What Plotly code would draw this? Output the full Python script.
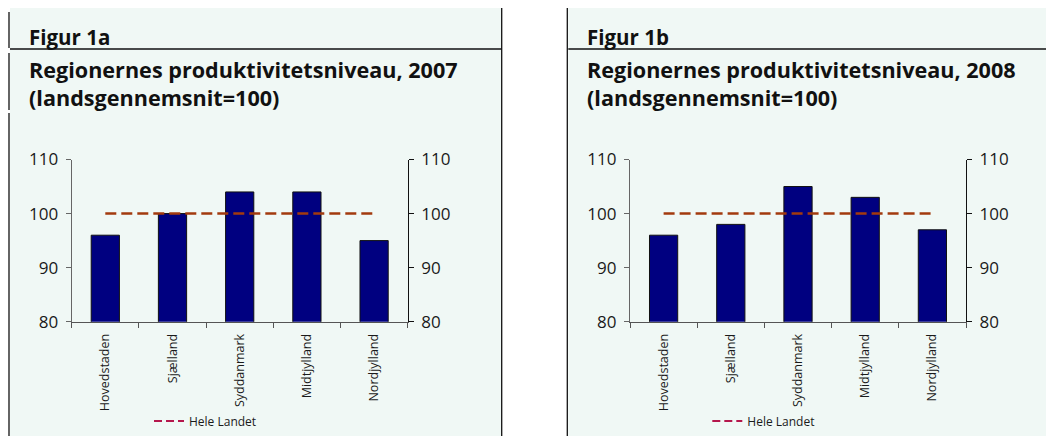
import plotly.graph_objects as go

regions = ["Hovedstaden", "Sjælland", "Syddanmark", "Midtjylland", "Nordjylland"]
values_2007 = [96, 100, 104, 104, 95]
values_2008 = [96, 98, 105, 103, 97]
hele_landet = [100, 100, 100, 100, 100]
y_ticks = [80, 90, 100, 110]
panel_titles = ["Figur 1a", "Figur 1b"]
chart_titles = ["Regionernes produktivitetsniveau, 2007<br>(landsgennemsnit=100)",
                "Regionernes produktivitetsniveau, 2008<br>(landsgennemsnit=100)"]
legend_name = "Hele Landet"

W, H = 1046, 436
FONT = "Open Sans"
BAR = "#000080"
LINE = "#a23a0e"
LEG = "#b5174c"
BG = "#f0f8f5"

def px(x):
    return x / W

def py(y):
    return 1 - y / H

fig = go.Figure()

panels = [
    dict(off=0.0, vals=values_2007, xa="x", ya="y", ya2="y2", leg="legend"),
    dict(off=558.3, vals=values_2008, xa="x2", ya="y3", ya2="y4", leg="legend2"),
]

for i, p in enumerate(panels):
    fig.add_trace(go.Bar(x=regions, y=p["vals"], xaxis=p["xa"], yaxis=p["ya"],
                         marker=dict(color=BAR, line=dict(color="#111111", width=1)),
                         showlegend=False, hoverinfo="x+y"))
    fig.add_trace(go.Scatter(x=regions, y=hele_landet, xaxis=p["xa"], yaxis=p["ya2"],
                             mode="lines", line=dict(color=LINE, width=2.5, dash="11px,5px"),
                             showlegend=False, name=legend_name))
    fig.add_trace(go.Scatter(x=[None], y=[None], xaxis=p["xa"], yaxis=p["ya2"],
                             mode="lines", line=dict(color=LEG, width=2, dash="8px,4px"),
                             name=legend_name, legend=p["leg"], showlegend=True))

x_left = 71.7
x_right = 407.7
y_top = 159.5
y_bot = 321.7

layout = dict(
    width=W, height=H,
    margin=dict(l=0, r=0, t=0, b=0, pad=0, autoexpand=False),
    paper_bgcolor="white",
    plot_bgcolor="rgba(0,0,0,0)",
    font=dict(family=FONT, color="#1a1a1a"),
    barmode="group",
    bargap=0.58,
)

shapes = []
annotations = []
for i, p in enumerate(panels):
    o = p["off"]
    dom = [px(x_left + o), px(x_right + o)]
    ydom = [py(y_bot), py(y_top)]
    xname = "xaxis" + ("" if i == 0 else "2")
    yname = "yaxis" + ("" if i == 0 else "3")
    y2name = "yaxis" + ("2" if i == 0 else "4")
    xref = "x" + ("" if i == 0 else "2")
    yref = "y" + ("" if i == 0 else "3")
    layout[xname] = dict(domain=dom, anchor=yref, type="category", automargin=False,
                         showline=True, linecolor="#555555", linewidth=1.3,
                         ticks="outside", tickson="boundaries", ticklen=5, tickcolor="#555555",
                         tickangle=-90, ticklabelstandoff=6,
                         tickfont=dict(size=12.5, color="#1a1a1a", family=FONT),
                         showgrid=False, zeroline=False, fixedrange=True)
    layout[yname] = dict(domain=ydom, anchor=xref, range=[80, 110], tickvals=y_ticks,
                         automargin=False,
                         showline=True, linecolor="#666666", linewidth=1.3,
                         ticks="outside", ticklen=5, tickcolor="#666666", ticklabelstandoff=4,
                         tickfont=dict(size=17, color="#1a1a1a", family=FONT),
                         showgrid=False, zeroline=False, fixedrange=True)
    layout[y2name] = dict(overlaying=yref, side="right", anchor=xref, range=[80, 110],
                          tickvals=y_ticks, automargin=False,
                          showline=True, linecolor="#111111", linewidth=1.3,
                          ticks="outside", ticklen=5, tickcolor="#111111", ticklabelstandoff=4,
                          tickfont=dict(size=17, color="#1a1a1a", family=FONT),
                          showgrid=False, zeroline=False, fixedrange=True)
    legname = p["leg"]
    layout[legname] = dict(orientation="h", x=px(149 + o), y=py(421), xanchor="left",
                           yanchor="middle", bgcolor="rgba(0,0,0,0)",
                           font=dict(size=12, family=FONT, color="#1a1a1a"))

    x0 = 10 + o
    x1 = 501.7 + o if i == 0 else W
    shapes.append(dict(type="rect", xref="paper", yref="paper", x0=px(x0), x1=px(x1),
                       y0=py(H), y1=py(8), fillcolor=BG, line=dict(width=0), layer="below"))
    shapes.append(dict(type="line", xref="paper", yref="paper", x0=px(x0), x1=px(x1),
                       y0=py(49), y1=py(49), line=dict(color="#111111", width=1.3)))
    if i == 0:
        for (a, b) in [(12, 48), (53, 110), (113, H)]:
            shapes.append(dict(type="line", xref="paper", yref="paper", x0=px(9), x1=px(9),
                               y0=py(a), y1=py(b), line=dict(color="#111111", width=1.3)))
        shapes.append(dict(type="line", xref="paper", yref="paper", x0=px(501.7), x1=px(501.7),
                           y0=py(8), y1=py(H), line=dict(color="#111111", width=1.3)))
    else:
        shapes.append(dict(type="line", xref="paper", yref="paper", x0=px(567.3), x1=px(567.3),
                           y0=py(8), y1=py(H), line=dict(color="#111111", width=1.3)))

    annotations.append(dict(text=panel_titles[i], xref="paper", yref="paper",
                            x=px(27 + o), y=py(37), xanchor="left", yanchor="middle",
                            showarrow=False, align="left",
                            font=dict(size=20.5, family=FONT, weight=700, color="#111111")))
    annotations.append(dict(text=chart_titles[i], xref="paper", yref="paper",
                            x=px(27 + o), y=py(83), xanchor="left", yanchor="middle",
                            showarrow=False, align="left",
                            font=dict(size=21.6, family=FONT, weight=700, color="#111111")))

layout["shapes"] = shapes
layout["annotations"] = annotations
fig.update_layout(**layout)

fig.write_html("out.html", config=dict(displayModeBar=False),
               post_script="document.body.style.margin='0px';")
